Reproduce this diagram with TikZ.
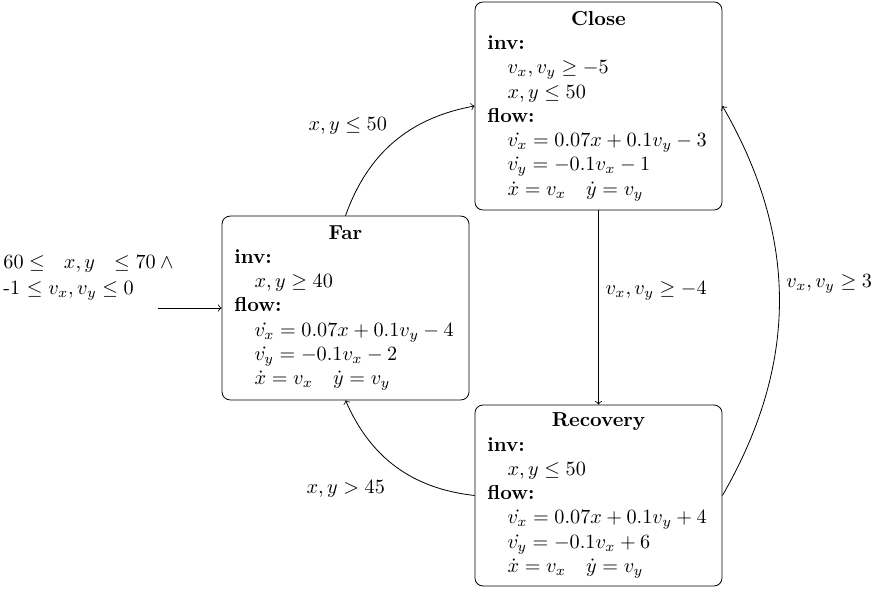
\documentclass[tikz,border=0pt]{standalone}
\usepackage{amsmath,amssymb}
\begin{document}
\begin{tikzpicture}[x=0.495pt,y=-0.495pt,>=to,
  state/.style={draw, rounded corners=4pt, align=left, text width=110pt,
    inner xsep=6pt, inner ysep=3pt, minimum width=122.3pt},
  lbl/.style={inner sep=3.3pt}]
\useasboundingbox (0,0) rectangle (880,591);
\node[state, minimum height=103pt] (close) at (598.5,106) {%
\centerline{\textbf{Close}}
\textbf{inv:}\\
\hspace*{1em}$v_x, v_y \geq -5$\\
\hspace*{1em}$x, y \leq 50$\\
\textbf{flow:}\\
\hspace*{1em}$\dot{v_x} = 0.07x + 0.1v_y - 3$\\
\hspace*{1em}$\dot{v_y} = -0.1v_x - 1$\\
\hspace*{1em}$\dot{x} = v_x \quad \dot{y} = v_y$};
\node[state, minimum height=91pt] (far) at (345.5,308) {%
\centerline{\textbf{Far}}
\textbf{inv:}\\
\hspace*{1em}$x, y \geq 40$\\
\textbf{flow:}\\
\hspace*{1em}$\dot{v_x} = 0.07x + 0.1v_y - 4$\\
\hspace*{1em}$\dot{v_y} = -0.1v_x - 2$\\
\hspace*{1em}$\dot{x} = v_x \quad \dot{y} = v_y$};
\node[state, minimum height=89.6pt] (recovery) at (598.5,495.5) {%
\centerline{\textbf{Recovery}}
\textbf{inv:}\\
\hspace*{1em}$x, y \leq 50$\\
\textbf{flow:}\\
\hspace*{1em}$\dot{v_x} = 0.07x + 0.1v_y + 4$\\
\hspace*{1em}$\dot{v_y} = -0.1v_x + 6$\\
\hspace*{1em}$\dot{x} = v_x \quad \dot{y} = v_y$};
\node[align=left, anchor=west, inner sep=0pt] (initlbl) at (3,278)
  {$60 \leq~~ x,y ~~\leq 70 \wedge{}$\\[0.5pt]-1 $\leq v_x,v_y \leq 0$};
\coordinate (init) at (158,308);
\draw[->] (init) -- (far.west);
\draw[->] (far.north) to[bend left=30] node[lbl, above left] {$x,y \leq 50$} (close.west);
\draw[->] (close.south) -- node[lbl, above right] {$v_x,v_y \geq -4$} (recovery.north);
\draw[->] (recovery.east) to[bend right=30] node[lbl, above right] {$v_x,v_y \geq 3$} (close.east);
\draw[->] (recovery.west) to[bend left=30] node[lbl, below left, xshift=-2pt, yshift=-3pt] {$x,y > 45$} (far.south);
\end{tikzpicture}
\end{document}
